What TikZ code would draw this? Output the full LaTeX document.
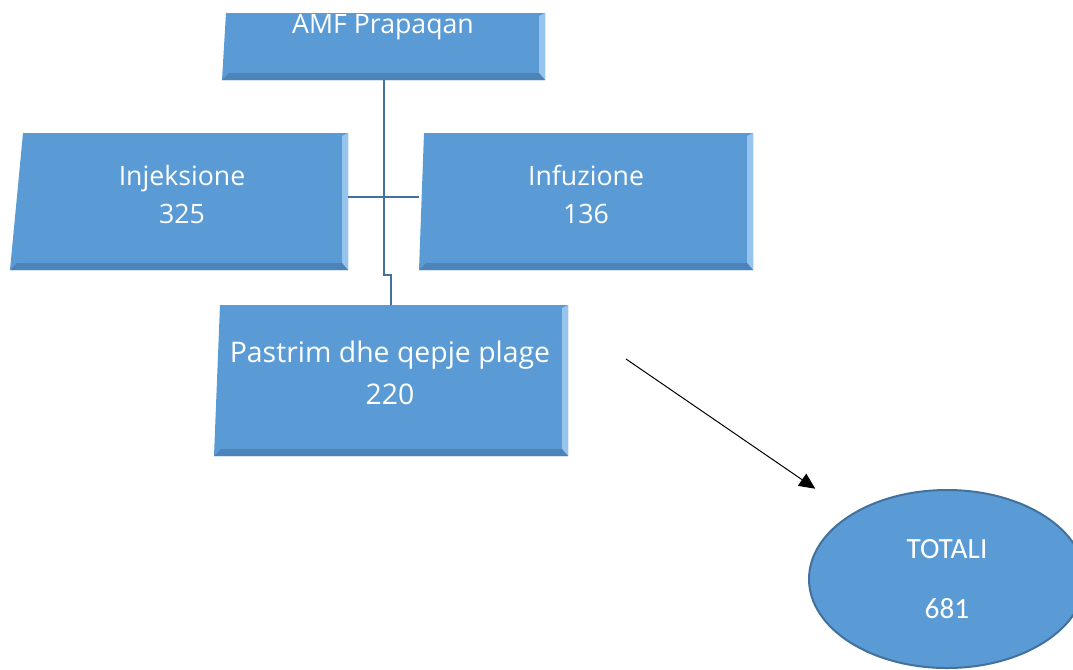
\documentclass[tikz,border=0pt]{standalone}
\usepackage{fontspec}
\setmainfont{Open Sans}
\newfontfamily\calibri{Carlito}
\usetikzlibrary{arrows.meta,fit,shapes.geometric}
\definecolor{boxblue}{RGB}{91,155,213}
\definecolor{bevellight}{RGB}{150,196,236}
\definecolor{beveldark}{RGB}{76,132,186}
\definecolor{linkblue}{RGB}{65,113,156}
\tikzset{
  boxtext/.style={text=white, align=center, font=\fontsize{20}{28.5}\selectfont},
  link/.style={draw=linkblue, line width=1.5pt},
  pointer/.style={-{Triangle[length=12pt,width=11pt]}, line width=0.75pt, black},
  totalnode/.style={ellipse, fill=boxblue, draw=linkblue, line width=1.5pt,
    minimum width=207pt, minimum height=133.5pt, text=white, align=center,
    font=\calibri\fontsize{22}{45}\selectfont},
}
\newcommand\BevelBox[6]{% name, x1, y1, x2, y2, slant of left edge
  \fill[boxblue] (#2+#6,#3) -- (#4,#3) -- (#4,#5) -- (#2,#5) -- cycle;
  \fill[bevellight] (#4-6,#3+3) -- (#4,#3) -- (#4,#5) -- (#4-6,#5-7) -- cycle;
  \fill[beveldark] (#2,#5) -- (#2+7,#5-7) -- (#4-6,#5-7) -- (#4,#5) -- cycle;
  \node[inner sep=0pt, fit={(#2,#3) (#4,#5)}] (#1) {};
}

\begin{document}
\begin{tikzpicture}[x=0.75pt,y=-0.75pt]
    \useasboundingbox (0,0) rectangle (1073,669);
    % boxes
    \BevelBox{amf}{222}{13}{545}{80}{4}
    \BevelBox{inj}{10}{133}{348}{270}{13}
    \BevelBox{inf}{419}{133}{753}{270}{5}
    \BevelBox{pastrim}{214}{305}{568}{456}{6}
    \node[boxtext] (amftxt) at (383,27) {AMF Prapaqan};
    \node[boxtext] (injtxt) at (182,194) {Injeksione\\325};
    \node[boxtext] (inftxt) at (586,194) {Infuzione\\136};
    \node[boxtext, font=\fontsize{21.3}{31.5}\selectfont] (pastrimtxt) at (390,373) {Pastrim dhe qepje plage\\220};
    % connectors
    \coordinate (jog) at (391,275);
    \draw[link] (amf.south) |- (jog) -- (pastrim.north);
    \draw[link] ([yshift=3.4pt]inj.east) -- ([yshift=3.4pt]inf.west);
    % total
    \node[totalnode] (tot) at (947,579) {TOTALI\\681};
    \coordinate (arrowstart) at (626,359);
    \draw[pointer, shorten >=33pt] (arrowstart) -- (tot);
\end{tikzpicture}
\end{document}
